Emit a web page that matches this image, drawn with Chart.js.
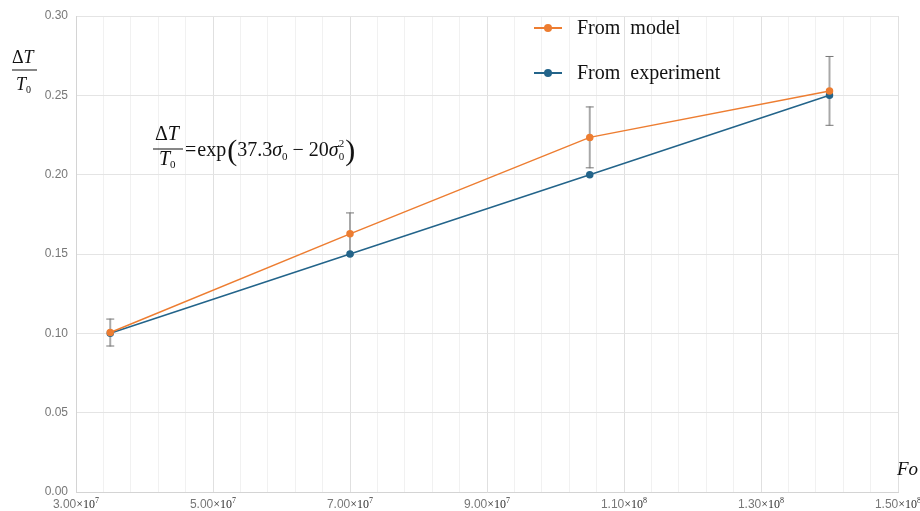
<!DOCTYPE html>
<html>
<head>
<meta charset="utf-8">
<script src="https://cdn.jsdelivr.net/npm/chart.js@4.4.0/dist/chart.umd.min.js"></script>
<style>
  html, body { margin: 0; padding: 0; background: #fff; }
</style>
</head>
<body>
<canvas id="foChart" width="920" height="511"></canvas>
<script>
// Valeurs
const foValues = [3.5e7, 7.0e7, 1.05e8, 1.4e8];
const modelValues = [0.1005, 0.1627, 0.2235, 0.2528];
const experimentValues = [0.10, 0.15, 0.20, 0.25];
const modelErrors = [0.0088, 0.0135, 0.0195, 0.022];
const seriesLabels = ['From  model', 'From  experiment'];
const seriesColors = ['#ed7d31', '#23648a'];

const xMin = 3e7, xMax = 1.5e8, xStep = 4e6;
const xLabelTicks = [3e7, 5e7, 7e7, 9e7, 1.1e8, 1.3e8, 1.5e8];
const yTicks = [0, 0.05, 0.10, 0.15, 0.20, 0.25, 0.30];

const makeXY = (xs, ys) => xs.map((x, i) => ({x: x, y: ys[i]}));

// Barres d'erreur (modèle)
const errorBars = {
    id: 'errorBars',
    beforeDatasetsDraw(chart) {
        const {ctx, scales: {x, y}} = chart;
        ctx.save();
        foValues.forEach((fo, i) => {
            const px = x.getPixelForValue(fo);
            const top = y.getPixelForValue(modelValues[i] + modelErrors[i]);
            const bot = y.getPixelForValue(modelValues[i] - modelErrors[i]);
            ctx.strokeStyle = '#a8a8a8';
            ctx.lineWidth = 2;
            ctx.beginPath();
            ctx.moveTo(px, top);
            ctx.lineTo(px, bot);
            ctx.stroke();
            ctx.strokeStyle = '#777';
            ctx.lineWidth = 1;
            ctx.beginPath();
            ctx.moveTo(px - 4, top + 0.5);
            ctx.lineTo(px + 4, top + 0.5);
            ctx.moveTo(px - 4, bot - 0.5);
            ctx.lineTo(px + 4, bot - 0.5);
            ctx.stroke();
        });
        ctx.restore();
    }
};

const drawRuns = (ctx, x, y, runs, measureOnly) => {
    runs.forEach(r => {
        ctx.font = r.font;
        if (!measureOnly) {
            ctx.fillStyle = r.color || ctx.fillStyle;
            ctx.fillText(r.text, x + (r.dx || 0), y + (r.dy || 0));
        }
        if (!r.noAdvance) x += ctx.measureText(r.text).width + (r.dx || 0);
    });
    return x;
};

// Textes : ticks X, titre Y, équation, Fo, légende
const annotations = {
    id: 'annotations',
    afterDraw(chart) {
        const ctx = chart.ctx;
        const xs = chart.scales.x;
        const serif = '"Liberation Serif", "DejaVu Serif", serif';
        const sans = '"Liberation Sans", Arial, sans-serif';
        ctx.save();
        ctx.textBaseline = 'alphabetic';
        ctx.textAlign = 'left';

        // labels de l'axe X : 3.00×10^7 ...
        xLabelTicks.forEach(v => {
            const e = Math.floor(Math.log10(v) + 1e-9);
            const m = (v / Math.pow(10, e)).toFixed(2);
            const runs = [
                {text: m, font: '12px ' + sans, color: '#777'},
                {text: '×10', font: '12px ' + serif, color: '#333'},
                {text: String(e), font: '8px ' + serif, color: '#333', dy: -5}
            ];
            const w = drawRuns(ctx, 0, 0, runs, true);
            drawRuns(ctx, xs.getPixelForValue(v) - w / 2, 508, runs);
        });

        ctx.fillStyle = '#111';
        // titre axe Y : ΔT / T0
        drawRuns(ctx, 12, 63, [{text: 'Δ', font: '18px ' + serif}, {text: 'T', font: 'italic 18px ' + serif}]);
        ctx.fillRect(12, 69.5, 25, 1);
        drawRuns(ctx, 16, 90, [{text: 'T', font: 'italic 18px ' + serif}, {text: '0', font: '10px ' + serif, dy: 3}]);

        // équation
        drawRuns(ctx, 155, 140, [{text: 'Δ', font: '20px ' + serif}, {text: 'T', font: 'italic 20px ' + serif}]);
        ctx.fillRect(153, 148.5, 30, 1);
        drawRuns(ctx, 159, 165, [{text: 'T', font: 'italic 20px ' + serif}, {text: '0', font: '11px ' + serif, dy: 3}]);
        drawRuns(ctx, 185, 156, [
            {text: '=', font: '20px ' + serif},
            {text: 'exp', font: '20px ' + serif, dx: 1},
            {text: '(', font: '30px ' + serif, dy: 4, dx: 1},
            {text: '37.3', font: '20px ' + serif},
            {text: 'σ', font: 'italic 20px ' + serif},
            {text: '0', font: '11px ' + serif, dy: 4},
            {text: '−', font: '20px ' + serif, dx: 5},
            {text: '20', font: '20px ' + serif, dx: 5},
            {text: 'σ', font: 'italic 20px ' + serif},
            {text: '2', font: '11px ' + serif, dy: -9, noAdvance: true},
            {text: '0', font: '11px ' + serif, dy: 4},
            {text: ')', font: '30px ' + serif, dy: 4, dx: 1}
        ]);

        // Fo
        ctx.font = 'italic 19px ' + serif;
        ctx.fillText('Fo', 897, 475);

        // légende
        const rows = [28, 73];
        rows.forEach((ly, i) => {
            ctx.strokeStyle = seriesColors[i];
            ctx.fillStyle = seriesColors[i];
            ctx.lineWidth = 2;
            ctx.beginPath();
            ctx.moveTo(534, ly);
            ctx.lineTo(562, ly);
            ctx.stroke();
            ctx.beginPath();
            ctx.arc(548, ly, 4, 0, Math.PI * 2);
            ctx.fill();
            ctx.fillStyle = '#111';
            ctx.font = '20px ' + serif;
            ctx.fillText(seriesLabels[i], 577, ly + 6);
        });
        ctx.restore();
    }
};

const ctx = document.getElementById('foChart');

new Chart(ctx, {
    type: 'line',
    data: {
        datasets: [
            {
                label: seriesLabels[0],
                data: makeXY(foValues, modelValues),
                borderColor: seriesColors[0],
                backgroundColor: seriesColors[0],
                borderWidth: 1.5,
                pointRadius: 3,
                tension: 0
            },
            {
                label: seriesLabels[1],
                data: makeXY(foValues, experimentValues),
                borderColor: seriesColors[1],
                backgroundColor: seriesColors[1],
                borderWidth: 1.5,
                pointRadius: 3,
                tension: 0
            }
        ]
    },
    options: {
        responsive: false,
        devicePixelRatio: 1,
        animation: false,
        layout: {padding: {left: 0, right: 22, top: 16, bottom: 0}},
        scales: {
            x: {
                type: 'linear',
                min: xMin,
                max: xMax,
                afterBuildTicks: (scale) => {
                    const t = [];
                    for (let v = xMin; v <= xMax + 1; v += xStep) t.push({value: v});
                    scale.ticks = t;
                },
                afterFit: (scale) => {
                    scale.height = 19;
                    scale.paddingLeft = 0;
                    scale.paddingRight = 0;
                },
                ticks: {
                    autoSkip: false,
                    maxRotation: 0,
                    padding: 5,
                    callback: () => ''
                },
                grid: {
                    drawTicks: false,
                    color: (c) => c.index % 5 === 0 ? '#e0e0e0' : '#f1f1f1',
                    lineWidth: 1
                },
                border: {color: '#d4d4d4'}
            },
            y: {
                min: 0,
                max: 0.30,
                afterBuildTicks: (scale) => { scale.ticks = yTicks.map(v => ({value: v})); },
                afterFit: (scale) => { scale.width = 76; },
                ticks: {
                    padding: 8,
                    color: '#777',
                    font: {family: '"Liberation Sans", Arial, sans-serif', size: 12},
                    callback: (value) => value.toFixed(2)
                },
                grid: {drawTicks: false, color: '#e4e4e4'},
                border: {color: '#d4d4d4'}
            }
        },
        plugins: {
            legend: {display: false},
            tooltip: {enabled: false}
        }
    },
    plugins: [errorBars, annotations]
});
</script>
</body>
</html>
